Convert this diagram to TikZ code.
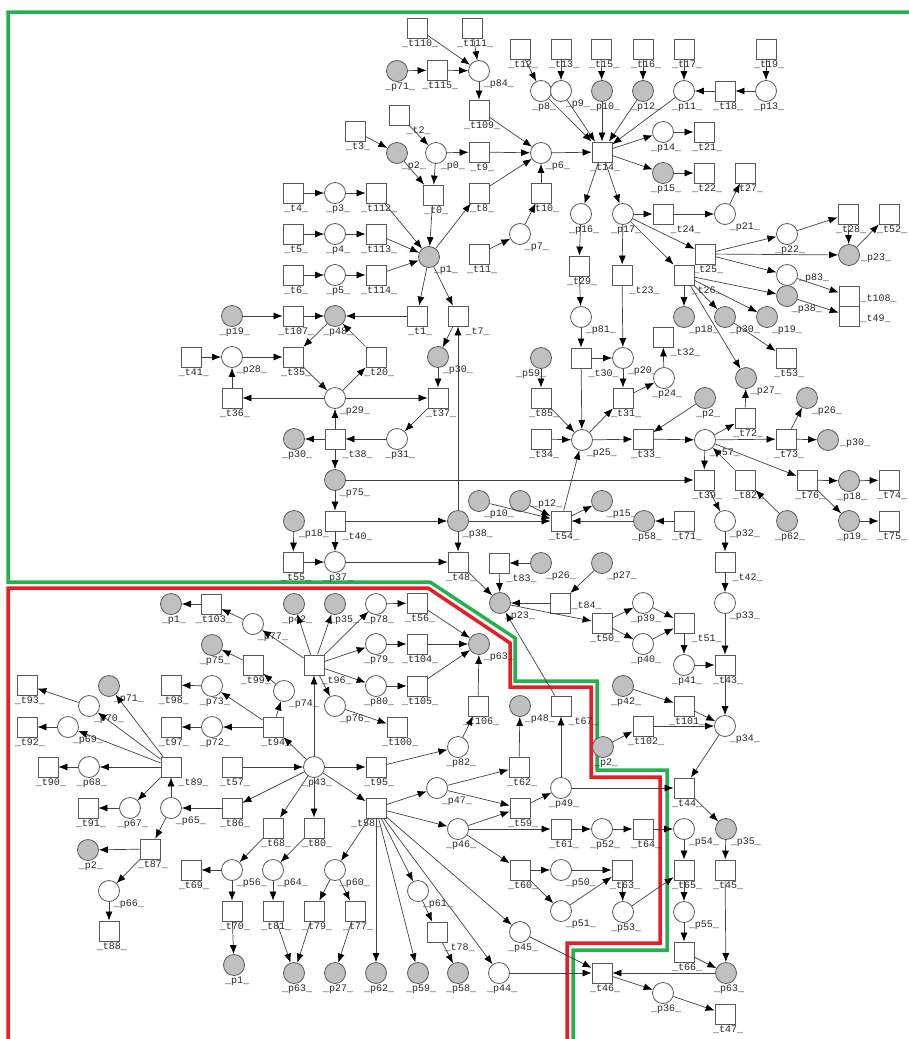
\documentclass[tikz,border=0pt]{standalone}
\usepackage{fontspec}
\newfontfamily\labfont{Liberation Mono}
\usetikzlibrary{arrows.meta}
\definecolor{bordergreen}{RGB}{34,177,76}
\definecolor{borderred}{RGB}{237,28,36}
\definecolor{tokgray}{RGB}{192,192,192}

\tikzset{
  place/.style={circle,draw=black!65,line width=0.8pt,fill=white,minimum size=21pt,inner sep=0pt},
  gplace/.style={place,fill=tokgray},
  trans/.style={rectangle,draw=black!65,line width=0.8pt,fill=white,minimum size=20pt,inner sep=0pt},
  tag/.style={font=\labfont\fontsize{10}{10}\selectfont,text=black!85,inner sep=1pt},
  lb/.style={label={[tag,xshift=3pt]below:\_#1\_}},
  lbr/.style={label={[tag,anchor=north west,xshift=-4pt]-45:\_#1\_}},
  lbl/.style={label={[tag,xshift=-10pt]below:\_#1\_}},
  lr/.style={label={[tag,yshift=-3pt]right:\_#1\_}}
}

\begin{document}
\begin{tikzpicture}[x=1pt,y=-1pt,->,>={Latex[length=9pt,width=7pt,color=black]},
                    every edge/.style={draw=black!75,line width=0.7pt}]
  \useasboundingbox (0,0) rectangle (909,1039);

  % region borders
  \draw[-,bordergreen,line width=3.5pt] (909,12) -- (8,12) -- (8,582) -- (430,582) -- (515,638)
    -- (515,681) -- (597,681) -- (597,770) -- (667,770) -- (667,950) -- (573,950) -- (573,1039);
  \draw[-,borderred,line width=3.5pt] (8,1039) -- (8,588) -- (428,588) -- (510,643) -- (510,687)
    -- (591,687) -- (591,777) -- (660,777) -- (660,943) -- (567,943) -- (567,1039);

  % upper left
  \node[trans,lb=t110]   (t110) at (417,28) {};
  \node[trans,lb=t111]   (t111) at (472,28) {};
  \node[gplace,lb=p71]   (p71a) at (397,71) {};
  \node[trans,lb=t115]   (t115) at (437,70) {};
  \node[place,lbr=p84]   (p84)  at (479,71) {};
  \node[trans,lb=t109]   (t109) at (479,110) {};
  \node[trans,lbr=t2]    (t2)   at (399,115) {};
  \node[trans,lb=t3]     (t3)   at (355,131) {};
  \node[gplace,lbr=p2]   (p2a)  at (397,153) {};
  \node[place,lbr=p0]    (p0)   at (436,153) {};
  \node[trans,lb=t9]     (t9)   at (479,152) {};
  \node[trans,lb=t0]     (t0)   at (433,195) {};
  \node[trans,lb=t8]     (t8)   at (479,193) {};
  \node[trans,lb=t4]     (t4)   at (293,193) {};
  \node[place,lb=p3]     (p3)   at (335,193) {};
  \node[trans,lb=t112]   (t112) at (376,193) {};
  \node[trans,lb=t5]     (t5)   at (293,234) {};
  \node[place,lb=p4]     (p4)   at (335,234) {};
  \node[trans,lb=t113]   (t113) at (376,234) {};
  \node[trans,lb=t6]     (t6)   at (293,275) {};
  \node[place,lb=p5]     (p5)   at (335,275) {};
  \node[trans,lb=t114]   (t114) at (376,275) {};
  \node[gplace,lbr=p1]   (p1a)  at (429,257) {};
  \node[trans,lb=t11]    (t11)  at (479,254) {};

  % upper right
  \node[trans,lb=t12]    (t12)  at (520,49) {};
  \node[trans,lb=t13]    (t13)  at (561,49) {};
  \node[trans,lb=t15]    (t15)  at (601,49) {};
  \node[trans,lb=t16]    (t16)  at (643,49) {};
  \node[trans,lb=t17]    (t17)  at (684,49) {};
  \node[trans,lb=t19]    (t19)  at (766,49) {};
  \node[place,lb=p8]     (p8)   at (541,91) {};
  \node[place,lbr=p9]    (p9)   at (561,91) {};
  \node[gplace,lb=p10]   (p10a) at (602,91) {};
  \node[gplace,lb=p12]   (p12a) at (643,91) {};
  \node[place,lb=p11]    (p11)  at (684,91) {};
  \node[trans,lb=t18]    (t18)  at (725,91) {};
  \node[place,lb=p13]    (p13)  at (766,91) {};
  \node[place,lbr=p6]    (p6)   at (541,153) {};
  \node[trans,lb=t14]    (t14)  at (602,152) {};
  \node[place,lb=p14]    (p14)  at (663,132) {};
  \node[trans,lb=t21]    (t21)  at (704,132) {};
  \node[gplace,lb=p15]   (p15a) at (663,173) {};
  \node[trans,lb=t22]    (t22)  at (704,173) {};
  \node[trans,lb=t27]    (t27)  at (745,173) {};
  \node[trans,lb=t10]    (t10)  at (541,193) {};
  \node[place,lbr=p7]    (p7)   at (520,234) {};
  \node[place,lb=p16]    (p16)  at (581,214) {};
  \node[place,lb=p17]    (p17)  at (623,214) {};
  \node[trans,lbr=t24]   (t24)  at (663,214) {};
  \node[place,lbr=p21]   (p21)  at (725,214) {};
  \node[trans,lb=t29]    (t29)  at (579,266) {};
  \node[trans,lbr=t23]   (t23)  at (622,275) {};
  \node[trans,lb=t25]    (t25)  at (705,254) {};
  \node[trans,lbr=t26]   (t26)  at (684,275) {};
  \node[place,lb=p22]    (p22)  at (787,234) {};
  \node[trans,lb=t28]    (t28)  at (848,214) {};
  \node[trans,lb=t52]    (t52)  at (889,214) {};
  \node[gplace,lr=p23]   (p23a) at (849,255) {};
  \node[place,lr=p83]    (p83)  at (787,275) {};
  \node[trans,lr=t108]   (t108) at (849,296) {};
  \node[trans,lr=t49]    (t49)  at (849,316) {};
  \node[gplace,lbr=p38]  (p38a) at (787,296) {};
  \node[gplace,lbr=p18]  (p18a) at (684,317) {};
  \node[gplace,lbr=p30]  (p30c) at (725,317) {};
  \node[gplace,lbr=p19]  (p19b) at (767,317) {};
  \node[trans,lb=t53]    (t53)  at (786,358) {};
  \node[trans,lbr=t32]   (t32)  at (663,337) {};

  % middle right
  \node[place,lbr=p81]   (p81)  at (581,317) {};
  \node[trans,lbr=t30]   (t30)  at (581,358) {};
  \node[place,lbr=p20]   (p20)  at (623,358) {};
  \node[place,lb=p24]    (p24)  at (664,378) {};
  \node[gplace,lbl=p59]  (p59a) at (541,358) {};
  \node[trans,lb=t85]    (t85)  at (541,398) {};
  \node[trans,lb=t31]    (t31)  at (623,398) {};
  \node[gplace,lbr=p27]  (p27a) at (746,378) {};
  \node[gplace,lb=p2]    (p2b)  at (705,398) {};
  \node[gplace,lbr=p26]  (p26a) at (807,398) {};
  \node[trans,lb=t34]    (t34)  at (541,439) {};
  \node[place,lbr=p25]   (p25)  at (582,440) {};
  \node[trans,lb=t33]    (t33)  at (643,439) {};
  \node[place,lbr=p57]   (p57)  at (705,440) {};
  \node[trans,lb=t72]    (t72)  at (745,418) {};
  \node[trans,lb=t73]    (t73)  at (786,439) {};
  \node[gplace,lr=p30]   (p30d) at (828,440) {};
  \node[trans,lb=t39]    (t39)  at (704,480) {};
  \node[trans,lb=t82]    (t82)  at (745,480) {};
  \node[trans,lb=t76]    (t76)  at (807,480) {};
  \node[gplace,lb=p18]   (p18b) at (849,481) {};
  \node[trans,lb=t74]    (t74)  at (889,480) {};
  \node[gplace,lr=p12]   (p12b) at (520,501) {};
  \node[gplace,lbr=p15]  (p15b) at (602,501) {};
  \node[trans,lb=t54]    (t54)  at (561,521) {};
  \node[gplace,lb=p58]   (p58a) at (644,521) {};
  \node[trans,lb=t71]    (t71)  at (684,521) {};
  \node[place,lbr=p32]   (p32)  at (725,521) {};
  \node[gplace,lb=p62]   (p62a) at (787,521) {};
  \node[gplace,lb=p19]   (p19c) at (849,521) {};
  \node[trans,lb=t75]    (t75)  at (889,521) {};
  \node[trans,lbr=t42]   (t42)  at (725,562) {};
  \node[trans,lbr=t83]   (t83)  at (499,563) {};
  \node[gplace,lbr=p26]  (p26b) at (541,563) {};
  \node[gplace,lbr=p27]  (p27b) at (602,563) {};

  % middle left
  \node[gplace,lb=p19]   (p19a) at (232,316) {};
  \node[trans,lb=t107]   (t107) at (293,316) {};
  \node[gplace,lb=p48]   (p48a) at (335,316) {};
  \node[trans,lb=t1]     (t1)   at (417,316) {};
  \node[trans,lbr=t7]    (t7)   at (458,316) {};
  \node[trans,lb=t41]    (t41)  at (191,357) {};
  \node[place,lbr=p28]   (p28)  at (232,357) {};
  \node[trans,lb=t35]    (t35)  at (293,357) {};
  \node[trans,lb=t20]    (t20)  at (376,357) {};
  \node[gplace,lbr=p30]  (p30a) at (438,357) {};
  \node[trans,lb=t36]    (t36)  at (232,398) {};
  \node[place,lbr=p29]   (p29)  at (335,398) {};
  \node[trans,lb=t37]    (t37)  at (438,398) {};
  \node[gplace,lb=p30]   (p30b) at (294,439) {};
  \node[trans,lbr=t38]   (t38)  at (335,439) {};
  \node[place,lb=p31]    (p31)  at (397,439) {};
  \node[gplace,lbr=p75]  (p75a) at (335,480) {};
  \node[trans,lbr=t40]   (t40)  at (335,521) {};
  \node[gplace,lbr=p18]  (p18c) at (294,521) {};
  \node[gplace,lbr=p10]  (p10b) at (479,501) {};
  \node[gplace,lbr=p38]  (p38b) at (458,521) {};
  \node[trans,lb=t55]    (t55)  at (293,562) {};
  \node[place,lb=p37]    (p37)  at (335,562) {};
  \node[trans,lb=t48]    (t48)  at (458,562) {};

  % lower right
  \node[gplace,lbr=p23]  (p23b) at (500,603) {};
  \node[trans,lr=t84]    (t84)  at (560,603) {};
  \node[trans,lb=t50]    (t50)  at (602,623) {};
  \node[place,lb=p39]    (p39)  at (643,603) {};
  \node[place,lb=p40]    (p40)  at (643,644) {};
  \node[trans,lbr=t51]   (t51)  at (684,623) {};
  \node[place,lbr=p33]   (p33)  at (725,603) {};
  \node[place,lb=p41]    (p41)  at (684,665) {};
  \node[trans,lb=t43]    (t43)  at (725,665) {};
  \node[gplace,lb=p42]   (p42b) at (623,686) {};
  \node[trans,lb=t101]   (t101) at (684,706) {};
  \node[place,lbr=p34]   (p34)  at (725,726) {};
  \node[trans,lb=t102]   (t102) at (643,726) {};
  \node[gplace,lb=p2]    (p2c)  at (603,747) {};
  \node[trans,lb=t44]    (t44)  at (684,788) {};

  % lower left
  \node[gplace,lb=p1]    (p1b)  at (171,604) {};
  \node[trans,lb=t103]   (t103) at (211,604) {};
  \node[place,lbr=p77]   (p77)  at (253,624) {};
  \node[gplace,lb=p42]   (p42a) at (294,604) {};
  \node[gplace,label={[tag,xshift=9pt]below:\_p35\_}] (p35a) at (335,604) {};
  \node[place,lb=p78]    (p78)  at (376,604) {};
  \node[trans,lb=t56]    (t56)  at (417,603) {};
  \node[place,lb=p79]    (p79)  at (376,644) {};
  \node[trans,lb=t104]   (t104) at (417,644) {};
  \node[gplace,lbr=p63]  (p63a) at (479,644) {};
  \node[gplace,lb=p75]   (p75b) at (212,645) {};
  \node[trans,lb=t99]    (t99)  at (253,665) {};
  \node[trans,lbr=t96]   (t96)  at (314,665) {};
  \node[place,lb=p80]    (p80)  at (376,686) {};
  \node[trans,lb=t105]   (t105) at (417,686) {};
  \node[place,lbr=p76]   (p76)  at (335,706) {};
  \node[trans,lb=t100]   (t100) at (397,727) {};
  \node[trans,lb=t106]   (t106) at (478,706) {};
  \node[gplace,lbr=p48]  (p48b) at (520,706) {};
  \node[trans,lbr=t67]   (t67)  at (561,706) {};
  \node[trans,lb=t93]    (t93)  at (27,685) {};
  \node[place,lbr=p70]   (p70)  at (89,706) {};
  \node[gplace,lbr=p71]  (p71b) at (109,686) {};
  \node[trans,lb=t98]    (t98)  at (171,685) {};
  \node[place,lb=p73]    (p73)  at (212,686) {};
  \node[place,lbr=p74]   (p74)  at (284,691) {};
  \node[trans,lb=t92]    (t92)  at (27,727) {};
  \node[place,lbr=p69]   (p69)  at (68,727) {};
  \node[trans,lb=t97]    (t97)  at (171,727) {};
  \node[place,lb=p72]    (p72)  at (212,727) {};
  \node[trans,lb=t94]    (t94)  at (273,727) {};
  \node[trans,lb=t90]    (t90)  at (48,767) {};
  \node[place,lb=p68]    (p68)  at (89,767) {};
  \node[trans,lbr=t89]   (t89)  at (171,767) {};
  \node[trans,lb=t57]    (t57)  at (232,767) {};
  \node[place,lb=p43]    (p43)  at (314,767) {};
  \node[trans,lb=t95]    (t95)  at (376,767) {};
  \node[place,lb=p82]    (p82)  at (458,747) {};
  \node[trans,lb=t62]    (t62)  at (519,767) {};
  \node[trans,lb=t91]    (t91)  at (88,808) {};
  \node[place,lb=p67]    (p67)  at (130,808) {};
  \node[place,lbr=p65]   (p65)  at (171,808) {};
  \node[trans,lb=t86]    (t86)  at (232,808) {};
  \node[trans,lbl=t58]   (t58)  at (376,808) {};
  \node[place,lbr=p47]   (p47)  at (437,788) {};
  \node[place,lb=p49]    (p49)  at (561,788) {};
  \node[trans,lb=t59]    (t59)  at (520,808) {};
  \node[trans,lb=t68]    (t68)  at (273,828) {};
  \node[trans,lb=t80]    (t80)  at (314,828) {};
  \node[place,lb=p46]    (p46)  at (458,829) {};
  \node[trans,lb=t61]    (t61)  at (561,829) {};
  \node[place,lb=p52]    (p52)  at (602,829) {};
  \node[trans,lb=t64]    (t64)  at (643,829) {};
  \node[place,lbr=p54]   (p54)  at (684,829) {};
  \node[gplace,lbr=p35]  (p35b) at (726,829) {};
  \node[gplace,lb=p2]    (p2d)  at (88,850) {};
  \node[trans,lb=t87]    (t87)  at (150,849) {};
  \node[trans,lb=t69]    (t69)  at (191,870) {};
  \node[place,lbr=p56]   (p56)  at (232,870) {};
  \node[place,lbr=p64]   (p64)  at (273,870) {};
  \node[place,lbr=p60]   (p60)  at (335,870) {};
  \node[trans,lb=t60]    (t60)  at (520,870) {};
  \node[place,lbr=p50]   (p50)  at (561,870) {};
  \node[trans,lb=t63]    (t63)  at (622,870) {};
  \node[trans,lb=t65]    (t65)  at (684,870) {};
  \node[trans,lb=t45]    (t45)  at (725,870) {};
  \node[place,lbr=p66]   (p66)  at (109,891) {};
  \node[place,lbr=p61]   (p61)  at (418,891) {};
  \node[trans,lb=t70]    (t70)  at (232,911) {};
  \node[trans,lb=t81]    (t81)  at (273,911) {};
  \node[trans,lb=t79]    (t79)  at (314,911) {};
  \node[trans,lb=t77]    (t77)  at (355,911) {};
  \node[place,lbr=p51]   (p51)  at (561,911) {};
  \node[place,lb=p53]    (p53)  at (623,912) {};
  \node[place,lbr=p55]   (p55)  at (684,912) {};
  \node[trans,lb=t88]    (t88)  at (109,931) {};
  \node[trans,lbr=t78]   (t78)  at (437,932) {};
  \node[place,lb=p45]    (p45)  at (520,932) {};
  \node[trans,lb=t66]    (t66)  at (684,952) {};
  \node[gplace,lb=p1]    (p1c)  at (234,965) {};
  \node[gplace,lb=p63]   (p63b) at (294,973) {};
  \node[gplace,lb=p27]   (p27c) at (335,973) {};
  \node[gplace,lb=p62]   (p62b) at (376,973) {};
  \node[gplace,lb=p59]   (p59b) at (418,973) {};
  \node[gplace,lb=p58]   (p58b) at (458,973) {};
  \node[place,lb=p44]    (p44)  at (499,973) {};
  \node[trans,lb=t46]    (t46)  at (602,973) {};
  \node[gplace,lb=p63]   (p63c) at (726,973) {};
  \node[place,lb=p36]    (p36)  at (663,993) {};
  \node[trans,lb=t47]    (t47)  at (725,1014) {};

  \path (t110) edge (p84) (t111) edge (p84) (p71a) edge (t115) (t115) edge (p84)
        (p84) edge (t109) (t109) edge (p6) (t2) edge (p0) (t3) edge (p2a)
        (p0) edge (t9) (t9) edge (p6) (p2a) edge (t0) (p0) edge (t0)
        (t0) edge (p1a) (p1a) edge (t8) (t8) edge (p6)
        (t4) edge (p3) (p3) edge (t112) (t112) edge (p1a)
        (t5) edge (p4) (p4) edge (t113) (t113) edge (p1a)
        (t6) edge (p5) (p5) edge (t114) (t114) edge (p1a)
        (p1a) edge (t1) (p1a) edge (t7) (t11) edge (p7) (p7) edge (t10) (t10) edge (p6);

  \path (t12) edge (p8) (t13) edge (p9) (t15) edge (p10a) (t16) edge (p12a)
        (t17) edge (p11) (t19) edge (p13) (p13) edge (t18) (t18) edge (p11)
        (p8) edge (t14) (p9) edge (t14) (p10a) edge (t14) (p12a) edge (t14)
        (p11) edge (t14) (p6) edge (t14) (t14) edge (p14) (t14) edge (p15a)
        (p14) edge (t21) (p15a) edge (t22) (t14) edge (p16) (t14) edge (p17)
        (p17) edge (t24) (t24) edge (p21) (p21) edge (t27) (p16) edge (t29)
        (p17) edge (t23) (p17) edge (t25) (p17) edge (t26)
        (t25) edge (p22) (t25) edge (p23a) (t25) edge (p83) (p22) edge (t28)
        (t28) edge (p23a) (p23a) edge (t52) (p83) edge (t108)
        (t26) edge (p38a) (p38a) edge (t49) (t26) edge (p18a) (t26) edge (p30c)
        (t26) edge (p19b) (t26) edge (p27a) (p30c) edge (t53);

  \path (t29) edge (p81) (p81) edge (t30) (t30) edge (p20) (t23) edge (p20)
        (p20) edge (t31) (t31) edge (p24) (p24) edge (t32) (t30) edge (p25)
        (p59a) edge (t85) (t85) edge (p25) (t34) edge (p25) (p25) edge (t31)
        (p25) edge (t33) (p2b) edge (t33) (t33) edge (p57)
        (p57) edge (t72) (t72) edge (p27a) (p57) edge (t73) (t73) edge (p26a)
        (t73) edge (p30d) (p57) edge (t39) (t82) edge (p57) (p62a) edge (t82)
        (p57) edge (t76) (t76) edge (p18b) (t76) edge (p19c)
        (p18b) edge (t74) (p19c) edge (t75) (t54) edge (p25)
        (p12b) edge (t54) (p10b) edge (t54) (p38b) edge (t54) (t54) edge (p15b)
        (p58a) edge (t54) (t71) edge (p58a) (t39) edge (p32) (p32) edge (t42)
        (p75a) edge (t39) (p26b) edge (t83) (t83) edge (p23b) (p27b) edge (t84);

  \path (p19a) edge (t107) (t107) edge (p48a) (t1) edge (p48a) (p48a) edge (t35)
        (t20) edge (p48a) (t41) edge (p28) (p28) edge (t35) (t36) edge (p28)
        (t35) edge (p29) (p29) edge (t20) (p29) edge (t36) (p29) edge (t37)
        (t7) edge (p30a) (p30a) edge (t37) (t37) edge (p31) (p31) edge (t38)
        (t38) edge (p30b) (t38) edge (p29) (t38) edge (p75a) (p75a) edge (t40)
        (t40) edge (p37) (t40) edge (p38b) (p18c) edge (t55) (t55) edge (p37)
        (p37) edge (t48) (p38b) edge (t48) (p38b) edge (t7) (t48) edge (p23b);

  \path (t84) edge (p23b) (p23b) edge (t50) (t50) edge (p39) (t50) edge (p40)
        (p39) edge (t51) (p40) edge (t51) (t51) edge (p41) (p41) edge (t43)
        (t42) edge (p33) (p33) edge (t43) (t43) edge (p34) (p42b) edge (t101)
        (t101) edge (p34) (t102) edge (p34) (p2c) edge (t102) (p34) edge (t44)
        (t67) edge (p23b) (p49) edge (t67) (p49) edge (t44) (t62) edge (p48b)
        (p47) edge (t62) (p47) edge (t59) (t59) edge (p49) (t95) edge (p82)
        (p82) edge (t106) (t106) edge (p63a) (t56) edge (p63a) (t104) edge (p63a)
        (t105) edge (p63a);

  \path (p78) edge (t56) (p79) edge (t104) (p80) edge (t105) (p76) edge (t100)
        (t96) edge (p78) (t96) edge (p79) (t96) edge (p80) (t96) edge (p76)
        (t96) edge (p42a) (t96) edge (p35a) (t96) edge (p77) (p77) edge (t103)
        (t103) edge (p1b) (p43) edge (t96) (t99) edge (p75b) (p74) edge (t99)
        (t94) edge (p74) (t94) edge (p73) (t94) edge (p72) (p73) edge (t98)
        (p72) edge (t97) (p43) edge (t94) (t57) edge (p43) (p43) edge (t95)
        (p43) edge (t86) (p43) edge (t68) (p43) edge (t80) (p43) edge (t58)
        (t86) edge (p65) (p65) edge (t89) (p65) edge (t87)
        (t89) edge (p70) (t89) edge (p71b) (t89) edge (p69) (t89) edge (p68)
        (t89) edge (p67) (p70) edge (t93) (p69) edge (t92) (p68) edge (t90)
        (p67) edge (t91) (t87) edge (p2d) (t87) edge (p66) (p66) edge (t88)
        (t68) edge (p56) (p56) edge (t69) (p56) edge (t70) (t70) edge (p1c)
        (t80) edge (p64) (p64) edge (t81) (t81) edge (p63b)
        (t58) edge (p60) (p60) edge (t79) (p60) edge (t77) (t79) edge (p63b)
        (t77) edge (p27c) (t58) edge (p62b) (t58) edge (p59b) (t58) edge (p61)
        (p61) edge (t78) (t78) edge (p58b) (t58) edge (p44) (t58) edge (p45)
        (t58) edge (p47) (t58) edge (p46);

  \path (p46) edge (t59) (p46) edge (t61) (p46) edge (t60) (t61) edge (p52)
        (p52) edge (t64) (t64) edge (p54) (t60) edge (p50) (t60) edge (p51)
        (p50) edge (t63) (p51) edge (t63) (t63) edge (p53) (p53) edge (t65)
        (p54) edge (t65) (t65) edge (p55) (p55) edge (t66) (t66) edge (p63c)
        (t44) edge (p35b) (p35b) edge (t45) (t45) edge (p63c) (p63c) edge (t46)
        (p45) edge (t46) (p44) edge (t46) (t46) edge (p36) (p36) edge (t47);
\end{tikzpicture}
\end{document}
